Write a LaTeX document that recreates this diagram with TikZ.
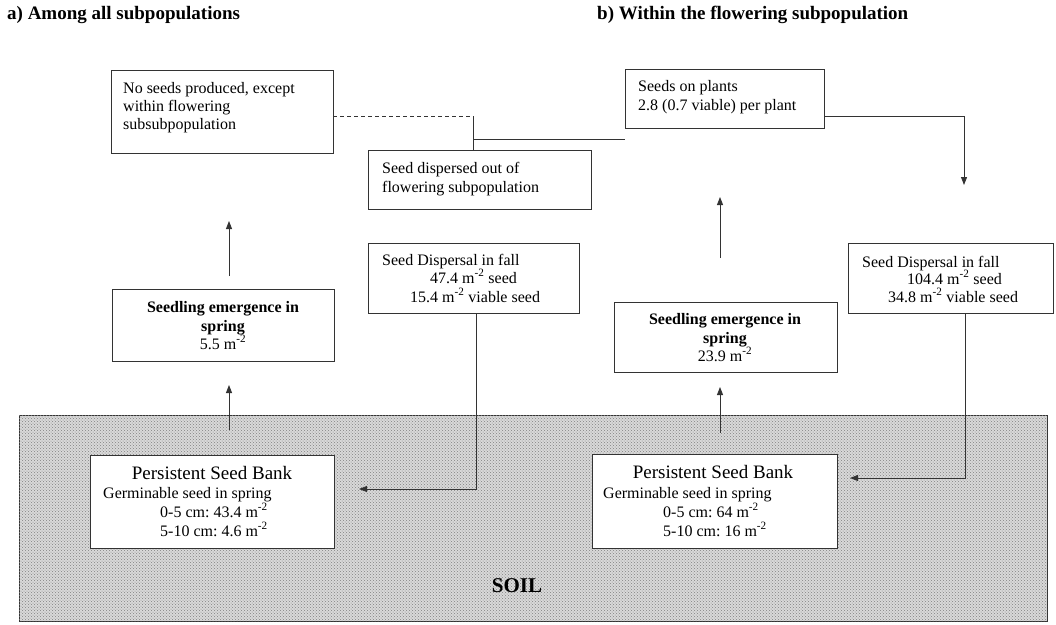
\documentclass[tikz,border=0pt]{standalone}
\usepackage{fontspec}
\setmainfont{Liberation Serif}
\usetikzlibrary{arrows.meta,patterns}
\newcommand{\msq}{m\textsuperscript{-2}}
\frenchspacing
\begin{document}
\begin{tikzpicture}[x=1pt,y=-1pt,
  box/.style={draw=black!80,line width=0.9pt,fill=white},
  conn/.style={draw=black!80,line width=0.9pt},
  arr/.style={conn,-{Triangle[length=8pt,width=6pt]}},
  txt/.style={anchor=base west,inner sep=0pt,font=\fontsize{16}{18}\selectfont},
  ctxt/.style={anchor=base,inner sep=0pt,font=\fontsize{16}{18}\selectfont},
  bctxt/.style={anchor=base,inner sep=0pt,font=\fontsize{16}{18}\selectfont\bfseries},
  ttl/.style={anchor=base west,inner sep=0pt,font=\fontsize{19}{22}\selectfont\bfseries}]
\useasboundingbox (0,0) rectangle (1056,624);
% titles
\node[ttl] (ta) at (7,19) {a) Among all subpopulations};
\node[ttl] (tb) at (597,19) {b) Within the flowering subpopulation};
% soil
\path[draw=black!80,line width=0.9pt,fill=black!15] (19,415) rectangle (1047,621);
\path[pattern=crosshatch dots,pattern color=black!50] (19,415) rectangle (1047,621);
\node[anchor=base,inner sep=0pt,font=\fontsize{21}{24}\selectfont\bfseries] (soil) at (517,592) {SOIL};
% boxes
\draw[box] (111,70) rectangle (333,153);
\draw[box] (368,150) rectangle (591,209);
\draw[box] (625,69) rectangle (824,128);
\draw[box] (112,289) rectangle (334,361);
\draw[box] (368,243) rectangle (579,313);
\draw[box] (614,302) rectangle (837,372);
\draw[box] (848,243) rectangle (1053,313);
\draw[box] (90,455) rectangle (334,548);
\draw[box] (592,454) rectangle (837,548);
% coordinates for connectors
\coordinate (noseedE) at (333,116);
\coordinate (outN) at (473,150);
\coordinate (j1) at (473,116);
\coordinate (j2) at (473,139);
\coordinate (j3) at (625,139);
\coordinate (plantsE) at (824,116);
\coordinate (p1) at (964,116);
\coordinate (dispBin) at (964,185);
\coordinate (emB1) at (720,258);
\coordinate (emB2) at (720,197);
\coordinate (emA1) at (229,276);
\coordinate (emA2) at (229,221);
\coordinate (bankAN) at (229,430);
\coordinate (seedAS) at (229,385);
\coordinate (bankBN) at (720,433);
\coordinate (seedBS) at (720,387);
\coordinate (dispAS) at (476,313);
\coordinate (dA1) at (476,489);
\coordinate (bankAE) at (359,489);
\coordinate (dispBS) at (965,313);
\coordinate (dB1) at (965,478);
\coordinate (bankBE) at (850,478);
% connectors
\draw[conn,dash pattern=on 4pt off 3pt] (noseedE) -- (j1);
\draw[conn] (j1) -- (outN);
\draw[conn] (j2) -- (j3);
\draw[arr] (plantsE) -- (p1) -- (dispBin);
\draw[arr] (emB1) -- (emB2);
\draw[arr] (emA1) -- (emA2);
\draw[arr] (bankAN) -- (seedAS);
\draw[arr] (bankBN) -- (seedBS);
\draw[arr] (dispAS) -- (dA1) -- (bankAE);
\draw[arr] (dispBS) -- (dB1) -- (bankBE);
% texts
\node[txt] (n1) at (123,93) {No seeds produced, except};
\node[txt] (n2) at (123,111) {within flowering};
\node[txt] (n3) at (123,129) {subsubpopulation};
\node[txt] (o1) at (382,173) {Seed dispersed out of};
\node[txt] (o2) at (382,192) {flowering subpopulation};
\node[txt] (p1t) at (638,91) {Seeds on plants};
\node[txt] (p2t) at (638,110) {2.8 (0.7 viable) per plant};
\node[bctxt] (sa1) at (223,312) {Seedling emergence in};
\node[bctxt] (sa2) at (223,331) {spring};
\node[ctxt] (sa3) at (223,349) {5.5 \msq};
\node[bctxt] (sb1) at (725,324) {Seedling emergence in};
\node[bctxt] (sb2) at (725,343) {spring};
\node[ctxt] (sb3) at (725,361) {23.9 \msq};
\node[txt] (da1) at (382,265) {Seed Dispersal in fall};
\node[txt] (da2) at (430,283) {47.4 \msq{} seed};
\node[txt] (da3) at (410,302) {15.4 \msq{} viable seed};
\node[txt] (db1) at (862,267) {Seed Dispersal in fall};
\node[txt] (db2) at (907,284) {104.4 \msq{} seed};
\node[txt] (db3) at (888,302) {34.8 \msq{} viable seed};
\node[anchor=base,inner sep=0pt,font=\fontsize{19}{22}\selectfont] (ba0) at (212,479) {Persistent Seed Bank};
\node[txt] (ba1) at (103,498) {Germinable seed in spring};
\node[txt] (ba2) at (160,517) {0-5 cm: 43.4 \msq};
\node[txt] (ba3) at (160,536) {5-10 cm: 4.6 \msq};
\node[anchor=base,inner sep=0pt,font=\fontsize{19}{22}\selectfont] (bb0) at (713,478) {Persistent Seed Bank};
\node[txt] (bb1) at (603,498) {Germinable seed in spring};
\node[txt] (bb2) at (663,517) {0-5 cm: 64 \msq};
\node[txt] (bb3) at (663,536) {5-10 cm: 16 \msq};
\end{tikzpicture}
\end{document}
